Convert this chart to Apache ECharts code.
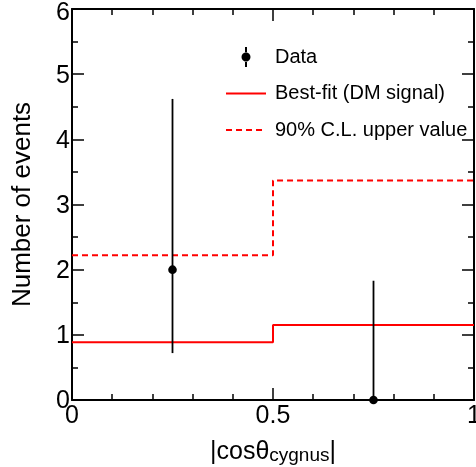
<!DOCTYPE html>
<html>
<head>
<meta charset="utf-8">
<script src="https://cdn.jsdelivr.net/npm/echarts@6/dist/echarts.min.js"></script>
<style>
  html, body { margin: 0; padding: 0; background: #fff; }
  #chart { width: 476px; height: 467px; }
</style>
</head>
<body>
<div id="chart"></div>
<script>
// Binned angular distribution |cos(theta_cygnus)|
const binEdges = [0, 0.5, 1];
const bestFit = [0.885, 1.15];      // best-fit DM signal per bin
const upper90 = [2.22, 3.37];       // 90% C.L. upper value per bin
const binCenters = [0.25, 0.75];
const counts = [2, 0];              // observed events
const errLow = [1.28, 0];
const errHigh = [2.62, 1.83];

const FONT = "'Liberation Sans', Arial, Helvetica, sans-serif";

function stepData(vals) {
  const out = [];
  for (let i = 0; i < vals.length; i++) out.push([binEdges[i], vals[i]]);
  out.push([binEdges[binEdges.length - 1], vals[vals.length - 1]]);
  return out;
}

const pointData = binCenters.map((x, i) => [x, counts[i], counts[i] - errLow[i], counts[i] + errHigh[i]]);

const frameAxis = {
  min: 0,
  axisLine: { show: true, onZero: false, lineStyle: { color: '#000', width: 2 } },
  axisTick: { show: true, inside: true, length: 12, lineStyle: { color: '#000', width: 1.5 } },
  minorTick: { show: true, length: 6, lineStyle: { color: '#000', width: 1.5 } },
  splitLine: { show: false },
  minorSplitLine: { show: false }
};

const xBase = Object.assign({}, frameAxis, { type: 'value', max: 1, interval: 0.5,
  minorTick: Object.assign({}, frameAxis.minorTick, { splitNumber: 5 }) });
const yBase = Object.assign({}, frameAxis, { type: 'value', max: 6, interval: 1,
  minorTick: Object.assign({}, frameAxis.minorTick, { splitNumber: 2 }) });

const chart = echarts.init(document.getElementById('chart'), null, { renderer: 'canvas' });

chart.setOption({
  animation: false,
  backgroundColor: '#fff',
  textStyle: { fontFamily: FONT },
  grid: { left: 72, right: 2, top: 9, bottom: 67, containLabel: false, outerBoundsMode: 'none' },
  xAxis: [
    Object.assign({}, xBase, {
      position: 'bottom',
      axisLabel: { show: true, color: '#000', fontSize: 25, margin: 4, fontFamily: FONT,
        formatter: v => String(v) },
      name: '{a||cosθ}{b|cygnus}{a||}',
      nameLocation: 'middle',
      nameGap: 34,
      nameTextStyle: {
        color: '#000',
        rich: {
          a: { fontSize: 25, color: '#000', fontFamily: FONT, lineHeight: 30, verticalAlign: 'bottom' },
          b: { fontSize: 19, color: '#000', fontFamily: FONT, lineHeight: 30, verticalAlign: 'bottom', padding: [12, 0, 0, 0] }
        }
      }
    }),
    Object.assign({}, xBase, { position: 'top', axisLabel: { show: false } })
  ],
  yAxis: [
    Object.assign({}, yBase, {
      position: 'left',
      axisLabel: {
        show: true, color: '#000', fontSize: 25, margin: 2, fontFamily: FONT,
        // keep the topmost label inside the canvas
        formatter: v => (v === 6 ? '{t|6}' : '{n|' + v + '}'),
        rich: {
          t: { fontSize: 25, color: '#000', fontFamily: FONT, padding: [9, 0, 0, 0] },
          n: { fontSize: 25, color: '#000', fontFamily: FONT, padding: [3, 0, 0, 0] }
        }
      },
      name: 'Number of events',
      nameLocation: 'middle',
      nameGap: 36,
      nameRotate: 90,
      nameTextStyle: { color: '#000', fontSize: 26, fontFamily: FONT }
    }),
    Object.assign({}, yBase, { position: 'right', axisLabel: { show: false } })
  ],
  legend: {
    orient: 'vertical',
    left: 225,
    top: 47,
    padding: 0,
    itemWidth: 40,
    itemHeight: 20,
    itemGap: 16.5,
    symbolKeepAspect: true,
    textStyle: { color: '#000', fontSize: 20, fontFamily: FONT, padding: [0, 0, 0, 4] },
    data: [
      { name: 'Data', icon: 'path://M9 0H11V6H9Z M9 14H11V20H9Z M5.5 10A4.5 4.5 0 1 0 14.5 10A4.5 4.5 0 1 0 5.5 10Z' },
      { name: 'Best-fit (DM signal)', itemStyle: { opacity: 0 } },
      { name: '90% C.L. upper value', itemStyle: { opacity: 0 } }
    ]
  },
  series: [
    {
      name: 'Data',
      type: 'custom',
      xAxisIndex: 0,
      yAxisIndex: 0,
      clip: false,
      color: '#000',
      itemStyle: { color: '#000' },
      data: pointData,
      encode: { x: 0, y: [1, 2, 3] },
      renderItem: function (params, api) {
        const x = api.value(0);
        const c = api.coord([x, api.value(1)]);
        const lo = api.coord([x, api.value(2)]);
        const hi = api.coord([x, api.value(3)]);
        return {
          type: 'group',
          children: [
            { type: 'line', shape: { x1: lo[0], y1: lo[1], x2: hi[0], y2: hi[1] },
              style: { stroke: '#000', lineWidth: 1.8 } },
            { type: 'circle', shape: { cx: c[0], cy: c[1], r: 4.3 }, style: { fill: '#000' } }
          ]
        };
      }
    },
    {
      name: 'Best-fit (DM signal)',
      type: 'line',
      step: 'end',
      symbol: 'none',
      color: '#ff0000',
      lineStyle: { color: '#ff0000', width: 2 },
      data: stepData(bestFit),
      z: 1
    },
    {
      name: '90% C.L. upper value',
      type: 'line',
      step: 'end',
      symbol: 'none',
      color: '#ff0000',
      lineStyle: { color: '#ff0000', width: 2, type: [6, 4] },
      data: stepData(upper90),
      z: 1
    }
  ]
});
</script>
</body>
</html>
